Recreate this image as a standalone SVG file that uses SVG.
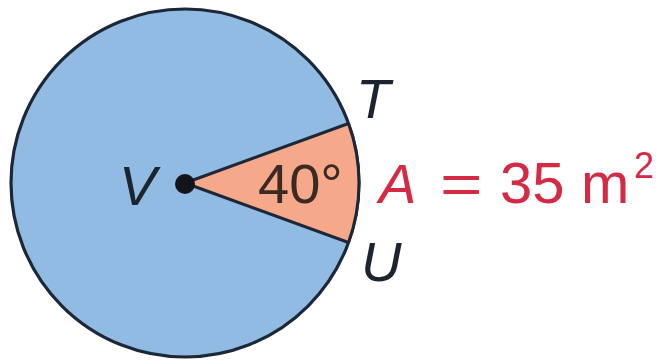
<svg xmlns="http://www.w3.org/2000/svg" width="663" height="360" viewBox="0 0 663 360">
<style>
.lbl{font-family:"Liberation Sans",Arial,sans-serif;font-size:56px;fill:#1c2430}
.it{font-style:italic}
.red{fill:#d42a44}
</style>
<rect width="663" height="360" fill="#ffffff"/>
<g id="circle">
<circle cx="185" cy="183" r="174" fill="#92bbe4" stroke="#1c2838" stroke-width="3.2"/>
</g>
<g id="sector">
<path d="M185,183 L348.5,123.5 A174,174 0 0 1 348.5,242.5 Z" fill="#f5a88a" stroke="#1c2838" stroke-width="3" stroke-linejoin="round"/>
</g>
<g id="center">
<circle cx="185" cy="184" r="10" fill="#111418"/>
</g>
<g id="labels">
<text class="lbl it" x="119" y="205">V</text>
<text class="lbl" x="258" y="203" style="fill:#3a2a22">40°</text>
<text class="lbl it" x="356" y="118">T</text>
<text class="lbl it" x="361" y="281">U</text>
<text class="lbl red"><tspan class="it" x="379" y="203">A</tspan><tspan x="500" y="203" style="font-size:58px">35</tspan><tspan x="581" y="203" style="font-size:58px">m</tspan><tspan x="634" y="178" style="font-size:36px">2</tspan></text>
<text class="lbl red" transform="translate(440,203) scale(1.3,1)" x="0" y="0">=</text>
</g>
</svg>
